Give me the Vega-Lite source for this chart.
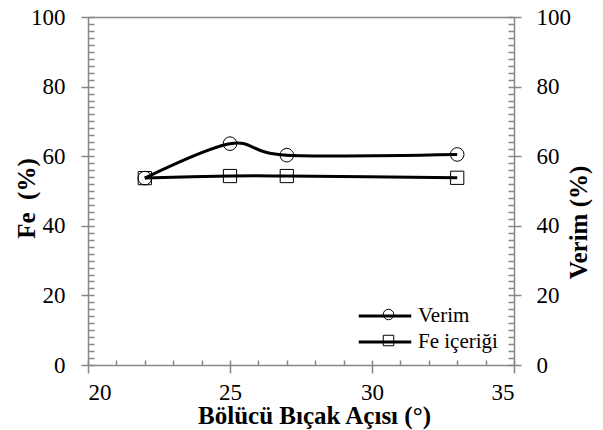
{
  "$schema": "https://vega.github.io/schema/vega-lite/v6.json",
  "width": 426,
  "height": 348,
  "autosize": "none",
  "padding": {"left": 88, "top": 17, "right": 89, "bottom": 65},
  "background": "white",
  "data": {
    "values": [
      {"aci": 22, "deger": 53.7, "seri": "Verim"},
      {"aci": 25, "deger": 63.6, "seri": "Verim"},
      {"aci": 27, "deger": 60.3, "seri": "Verim"},
      {"aci": 33, "deger": 60.5, "seri": "Verim"},
      {"aci": 22, "deger": 53.7, "seri": "Fe içeriği"},
      {"aci": 25, "deger": 54.3, "seri": "Fe içeriği"},
      {"aci": 27, "deger": 54.3, "seri": "Fe içeriği"},
      {"aci": 33, "deger": 53.8, "seri": "Fe içeriği"}
    ]
  },
  "resolve": {"axis": {"x": "independent", "y": "independent"}},
  "layer": [
    {
      "transform": [{"filter": "datum.seri === 'Verim'"}],
      "mark": {"type": "line", "interpolate": "cardinal", "strokeWidth": 3},
      "encoding": {
        "x": {"field": "aci", "type": "quantitative",
          "scale": {"domain": [20, 35], "nice": false},
          "axis": {"orient": "bottom", "values": [20, 25, 30, 35], "tickSize": 8, "labelPadding": 8,
            "title": "Bölücü Bıçak Açısı (°)", "titleX": 226, "titleY": 58, "titleBaseline": "alphabetic", "titleAnchor": null}},
        "y": {"field": "deger", "type": "quantitative",
          "scale": {"domain": [0, 100], "nice": false},
          "axis": {"orient": "left", "values": [0, 20, 40, 60, 80, 100], "tickSize": 7, "labelPadding": 16,
            "title": "Fe\u00a0\u00a0(%)", "titleX": -62, "titleY": 181, "titleBaseline": "middle", "titleAngle": 270}},
        "color": {"field": "seri", "type": "nominal",
          "scale": {"domain": ["Verim", "Fe içeriği"], "range": ["black", "black"]},
          "legend": {"orient": "none", "legendX": 285, "legendY": 287, "title": null, "padding": 0,
            "symbolType": "M-2.5,0H2.5", "symbolSize": 441, "symbolStrokeWidth": 3, "symbolStrokeColor": "black",
            "symbolOffset": 0, "labelOffset": 21, "labelFont": "Liberation Serif", "labelFontSize": 21,
            "labelColor": "black", "rowPadding": 4}}
      }
    },
    {
      "transform": [{"filter": "datum.seri === 'Fe içeriği'"}],
      "mark": {"type": "line", "interpolate": "cardinal", "strokeWidth": 3},
      "encoding": {
        "x": {"field": "aci", "type": "quantitative",
          "axis": {"orient": "bottom", "values": [20, 21, 22, 23, 24, 25, 26, 27, 28, 29, 30, 31, 32, 33, 34, 35],
            "tickSize": -5, "labels": false, "domain": false, "title": null}},
        "y": {"field": "deger", "type": "quantitative",
          "axis": {"orient": "right", "values": [0, 20, 40, 60, 80, 100], "tickSize": 7, "labelPadding": 15,
            "title": "Verim (%)", "titleX": 64, "titleY": 205, "titleBaseline": "middle", "titleAngle": 270}},
        "color": {"field": "seri", "type": "nominal"}
      }
    },
    {
      "transform": [{"filter": "datum.seri === 'Verim'"}],
      "mark": {"type": "point", "filled": false, "color": "black", "strokeWidth": 1, "size": 185, "opacity": 1},
      "encoding": {
        "x": {"field": "aci", "type": "quantitative",
          "axis": {"orient": "top", "ticks": false, "labels": false, "domain": true, "title": null}},
        "y": {"field": "deger", "type": "quantitative",
          "axis": {"orient": "left", "values": [0, 2, 4, 6, 8, 10, 12, 14, 16, 18, 20, 22, 24, 26, 28, 30, 32, 34, 36, 38, 40, 42, 44, 46, 48, 50, 52, 54, 56, 58, 60, 62, 64, 66, 68, 70, 72, 74, 76, 78, 80, 82, 84, 86, 88, 90, 92, 94, 96, 98, 100],
            "tickSize": -6, "labels": false, "domain": false, "title": null}},
        "shape": {"field": "seri", "type": "nominal",
          "scale": {"range": ["square", "circle"]},
          "legend": {"orient": "none", "legendX": 290, "legendY": 287, "title": null, "padding": 0,
            "values": ["Verim", "Fe içeriği"],
            "symbolSize": 110, "symbolStrokeWidth": 1, "symbolStrokeColor": "black", "symbolFillColor": "white",
            "labelFont": "Liberation Serif", "labelFontSize": 21, "labelExpr": "''", "rowPadding": 4,
            "encode": {"symbols": {"update": {"fill": {"value": "white"}, "stroke": {"value": "black"}, "opacity": {"value": 1}}}}}}
      }
    },
    {
      "transform": [{"filter": "datum.seri === 'Fe içeriği'"}],
      "mark": {"type": "point", "filled": false, "color": "black", "strokeWidth": 1, "size": 175, "opacity": 1},
      "encoding": {
        "x": {"field": "aci", "type": "quantitative", "axis": null},
        "y": {"field": "deger", "type": "quantitative",
          "axis": {"orient": "right", "values": [0, 2, 4, 6, 8, 10, 12, 14, 16, 18, 20, 22, 24, 26, 28, 30, 32, 34, 36, 38, 40, 42, 44, 46, 48, 50, 52, 54, 56, 58, 60, 62, 64, 66, 68, 70, 72, 74, 76, 78, 80, 82, 84, 86, 88, 90, 92, 94, 96, 98, 100],
            "tickSize": -6, "labels": false, "domain": false, "title": null}},
        "shape": {"field": "seri", "type": "nominal"}
      }
    }
  ],
  "config": {
    "view": {"stroke": null},
    "axis": {
      "grid": false,
      "domainColor": "#878787", "domainWidth": 1.5,
      "tickColor": "#878787", "tickWidth": 1.5,
      "labelFont": "Liberation Serif", "labelFontSize": 23, "labelColor": "black",
      "titleFont": "Liberation Serif", "titleFontSize": 25, "titleFontWeight": "bold", "titleColor": "black"
    }
  }
}
